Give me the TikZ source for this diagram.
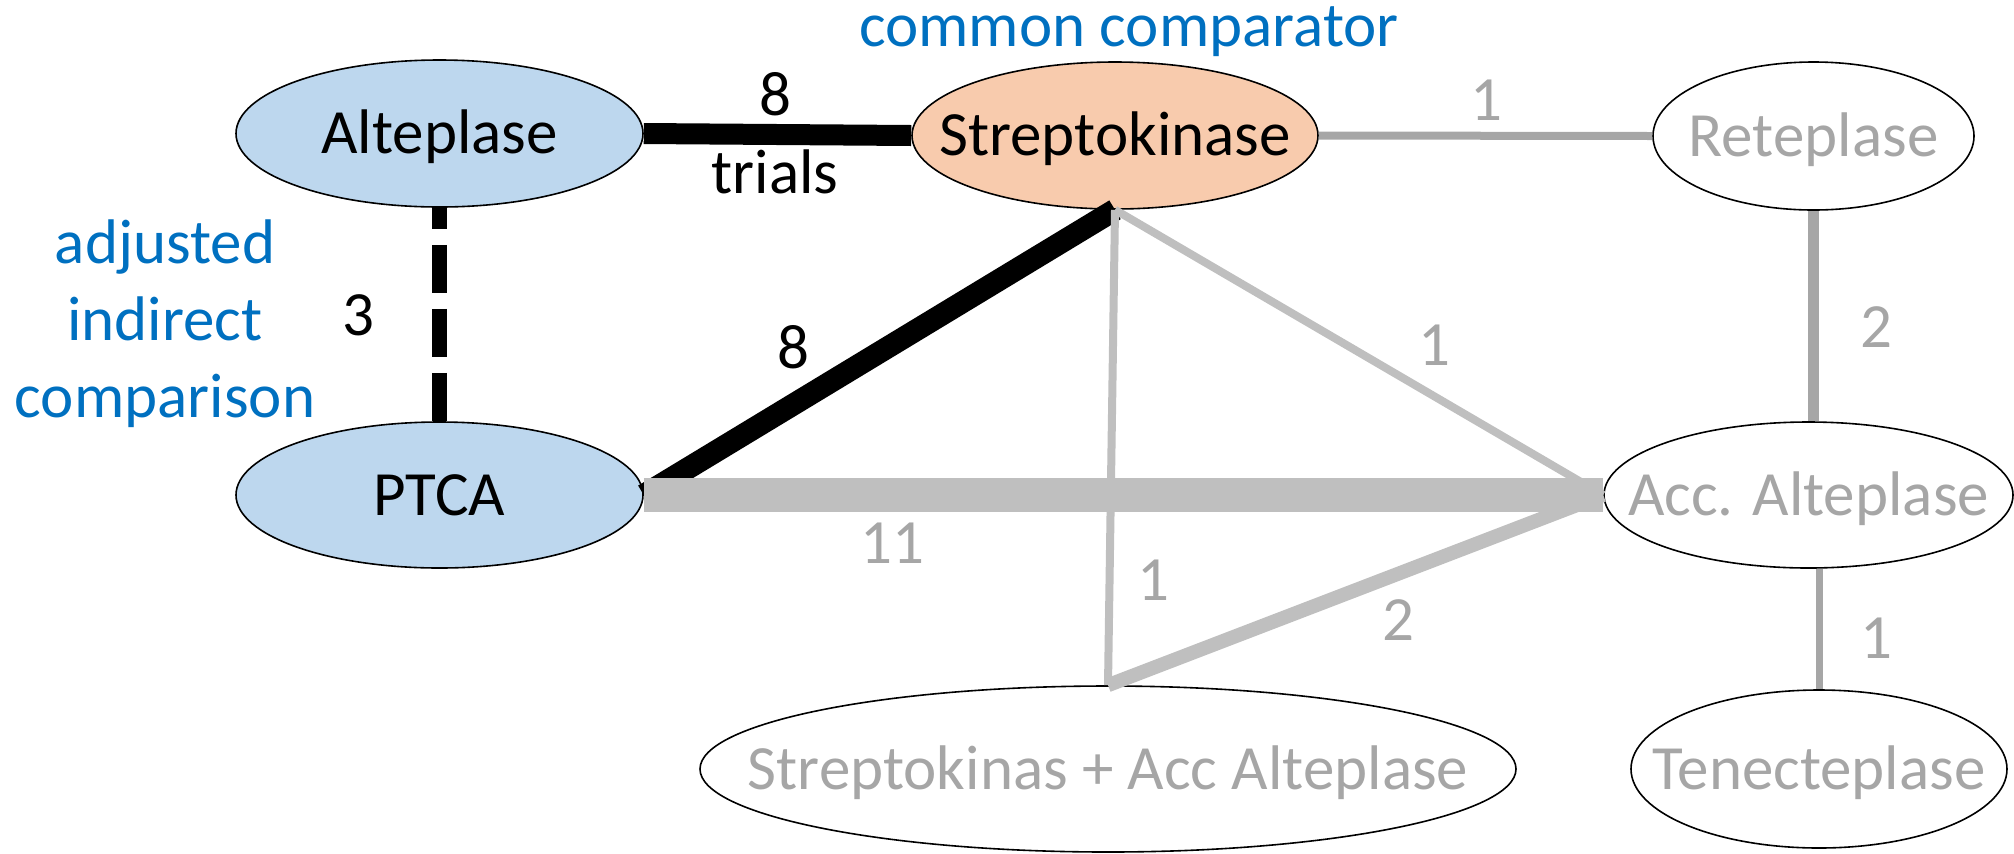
\documentclass[tikz,border=0pt]{standalone}
\usepackage{fontspec}
\setmainfont{Carlito}
\usetikzlibrary{shapes.geometric}
\definecolor{nodeblue}{HTML}{BDD7EE}
\definecolor{nodepeach}{HTML}{F8CBAD}
\definecolor{txtblue}{HTML}{0070C0}
\definecolor{lgray}{HTML}{BFBFBF}
\definecolor{dgray}{HTML}{A6A6A6}
\begin{document}
\begin{tikzpicture}[x=0.5pt,y=-0.5pt,
  every node/.style={font=\fontsize{31.5}{38}\selectfont},
  drug/.style={ellipse, draw=black, line width=0.8pt, inner sep=0pt, fill=white},
  captext/.style={text height=20.3pt, text depth=0pt, inner sep=0pt},
  num/.style={anchor=base, inner sep=0pt},
  graynum/.style={num, text=dgray},
  bluetxt/.style={anchor=base, inner sep=0pt, text=txtblue},
  blackedge/.style={draw=black},
  lightedge/.style={draw=lgray},
  darkedge/.style={draw=dgray}]
\useasboundingbox (0,0) rectangle (2014,853);

% nodes
\node[drug, fill=nodeblue, minimum width=203.5pt, minimum height=73.5pt,
      label={[captext]center:Alteplase}] (alt) at (439.5,133.5) {};
\node[drug, fill=nodepeach, minimum width=203pt, minimum height=73.5pt,
      label={[captext]center:Streptokinase}] (strep) at (1115,135.5) {};
\node[drug, minimum width=160.5pt, minimum height=74pt,
      label={[captext, text=dgray]center:Reteplase}] (ret) at (1813.5,136) {};
\node[drug, fill=nodeblue, minimum width=203.5pt, minimum height=73pt,
      label={[captext]center:PTCA}] (ptca) at (439.5,495) {};
\node[drug, minimum width=204.5pt, minimum height=73pt,
      label={[captext, text=dgray]center:Acc. Alteplase}] (acc) at (1808.5,495) {};
\node[drug, minimum width=408pt, minimum height=83pt,
      label={[captext, text=dgray]center:Streptokinas + Acc Alteplase}] (sa) at (1108,769) {};
\node[drug, minimum width=188pt, minimum height=79pt,
      label={[captext, text=dgray]center:Tenecteplase}] (ten) at (1819,769) {};

% edges
\draw[blackedge, line width=10.5pt] (alt.east) -- (strep.west);
\draw[blackedge, line width=7.5pt, dash pattern=on 24pt off 8pt, dash phase=13.5pt]
  (alt.south) -- (ptca.north);
\draw[blackedge, line width=11pt] (strep.south) -- (ptca.east);
\draw[darkedge, line width=4pt] (strep.east) -- (ret.west);
\draw[darkedge, line width=5.5pt] (ret.south) -- (ret.south |- acc.north);
\draw[darkedge, line width=3.5pt] (ten.north |- acc.south) -- (ten.north);
\draw[lightedge, line width=4pt] (strep.south) -- (acc.west);
\draw[lightedge, line width=4pt] (strep.south) -- (sa.north);
\draw[lightedge, line width=7pt] (sa.north) -- (acc.west);
\draw[lightedge, line width=17pt] (ptca.east) -- (acc.west);

% edge labels
\node[num] (l8a) at (775,115) {8};
\node[num] (ltrials) at (775,193) {trials};
\node[num] (l3) at (358,335) {3};
\node[num] (l8b) at (793,368) {8};
\node[graynum] (l1a) at (1486,120) {1};
\node[graynum] (l1b) at (1434,365) {1};
\node[graynum] (l2a) at (1876,347) {2};
\node[graynum] (l11) at (892,563) {11};
\node[graynum] (l1c) at (1153,600) {1};
\node[graynum] (l2b) at (1398,640) {2};
\node[graynum] (l1d) at (1876,658) {1};

% annotations
\node[bluetxt] (cc) at (1129,46) {common comparator};
\node[bluetxt] (adj1) at (165,263) {adjusted};
\node[bluetxt] (adj2) at (165,340) {indirect};
\node[bluetxt] (adj3) at (165,417) {comparison};
\end{tikzpicture}
\end{document}
